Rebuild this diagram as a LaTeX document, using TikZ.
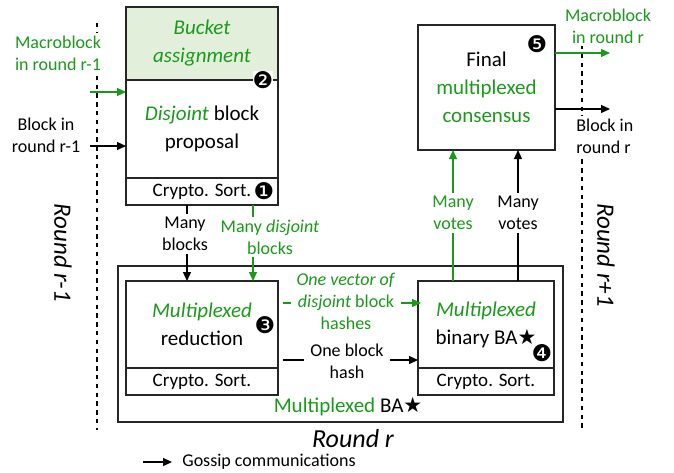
\documentclass[tikz,border=0pt]{standalone}
\usepackage{fontspec}
\setmainfont{Carlito}
\newfontfamily\symfont{DejaVu Sans}
\usetikzlibrary{arrows.meta,positioning,calc}
\definecolor{grn}{HTML}{1A9A1A}
\definecolor{bucketfill}{HTML}{E2EFDA}
\newcommand{\stepmark}[1]{{\symfont #1}}

\begin{document}
\begin{tikzpicture}[
  x=0.5pt, y=-0.5pt,
  box/.style={draw=black!85, line width=0.8pt, outer sep=0pt, align=center, inner sep=1pt, font=\fontsize{10.5}{14}\selectfont},
  sortbox/.style={box, minimum height=13.5pt, font=\fontsize{9.5}{10}\selectfont},
  lbl/.style={align=center, inner sep=1.5pt, font=\fontsize{9}{11}\selectfont},
  stepno/.style={inner sep=0pt, font=\fontsize{11.5}{11.5}\selectfont},
  arr/.style={-{Triangle[length=4.5pt,width=4pt]}, line width=0.6pt},
  border/.style={dashed, dash pattern=on 2.2pt off 2.2pt, line width=0.7pt},
]
\useasboundingbox (0,0) rectangle (674,472);

% round borders
\coordinate (lefttop) at (97,23);
\coordinate (leftbot) at (97,430);
\coordinate (righttop) at (582,45);
\coordinate (rightbot) at (582,430);
\draw[border] (lefttop) -- (leftbot);
\draw[border] (righttop) -- (rightbot);

\node[rotate=-90, font=\fontsize{12.5}{13}\selectfont\itshape] (rprev) at (63,253) {Round r-1};
\node[rotate=-90, font=\fontsize{12.5}{13}\selectfont\itshape] (rnext) at (606,255) {Round r+1};

% proposal column
\node[box, minimum width=76pt, minimum height=36.5pt, fill=bucketfill, anchor=north west] (bucket) at (126,7) {\textcolor{grn}{\itshape Bucket}\\\textcolor{grn}{\itshape assignment}};
\node[box, minimum width=76pt, minimum height=49pt, below=0pt of bucket] (prop) {\textcolor{grn}{\itshape Disjoint} block\\proposal};
\node[sortbox, minimum width=76pt, below=0pt of prop] (sortA) {Crypto. Sort.};
\node[stepno, fill=white] (n1) at ($(sortA.east)+(-14,0)$) {\stepmark{❶}};
\node[stepno, fill=white] (n2) at ($(bucket.south east)+(-15,0)$) {\stepmark{❷}};

% final consensus
\node[box, minimum width=68.5pt, minimum height=62.5pt, anchor=north west] (final) at (418,25) {Final\\\textcolor{grn}{multiplexed}\\\textcolor{grn}{consensus}};
\node[stepno] (n5) at (537,44) {\stepmark{❺}};

% multiplexed BA
\node[box, minimum width=222.5pt, minimum height=78pt, anchor=north west] (bagroup) at (118,266) {};
\node[box, minimum width=76pt, minimum height=43.5pt, anchor=north west] (reduce) at (126,281) {\textcolor{grn}{\itshape Multiplexed}\\reduction};
\node[sortbox, minimum width=76pt, below=0pt of reduce] (sortB) {Crypto. Sort.};
\node[box, minimum width=68pt, minimum height=43.5pt, anchor=north west] (binba) at (418,281) {\textcolor{grn}{\itshape Multiplexed}\\binary BA\stepmark{★}};
\node[sortbox, minimum width=68pt, below=0pt of binba] (sortC) {Crypto. Sort.};
\node[stepno] (n3) at (265,325) {\stepmark{❸}};
\node[stepno] (n4) at (542,353) {\stepmark{❹}};
\node[lbl, font=\fontsize{10.5}{12}\selectfont] (bacap) at (348,407) {\textcolor{grn}{Multiplexed} BA\stepmark{★}};
\node[font=\fontsize{13}{14}\selectfont\itshape] (rcur) at (353,439) {Round r};

% inputs from round r-1
\coordinate (macsrc) at (90,92);
\coordinate (blksrc) at (90,146);
\draw[arr, grn] (macsrc) -- (macsrc -| prop.west);
\draw[arr] (blksrc) -- (blksrc -| prop.west);
\node[lbl, text=grn, fill=white] (macin) at (58,53) {Macroblock\\in round r-1};
\node[lbl] (blkin) at (46,135) {Block in\\round r-1};

% outputs to round r+1
\coordinate (macdst) at (610,53);
\coordinate (blkdst) at (610,109);
\draw[arr, grn] (macdst -| final.east) -- (macdst);
\draw[arr] (blkdst -| final.east) -- (blkdst);
\node[lbl, text=grn, fill=white] (macout) at (608,26) {Macroblock\\in round r};
\node[lbl, align=left, fill=white, anchor=west] (blkout) at (573,136) {Block in\\round r};

% proposal to reduction
\draw[arr] ($(sortA.south west)+(61,0)$) -- ($(reduce.north west)+(61,0)$);
\draw[arr, grn] ($(sortA.south west)+(127,0)$) -- ($(reduce.north west)+(127,0)$);
\node[lbl, fill=white] (manyblk) at (185,234) {Many\\blocks};
\node[lbl, text=grn, fill=white] (manydis) at (270,237) {Many \textit{disjoint}\\blocks};

% reduction to binary BA
\draw[arr, grn, shorten <=2.5pt] ($(reduce.north east)+(0,22)$) -- ($(binba.north west)+(3,22)$);
\draw[arr, shorten <=2.5pt] ($(reduce.north east)+(0,79)$) -- ($(binba.north west)+(0,79)$);
\node[lbl, text=grn, fill=white, inner xsep=3pt] (vechash) at (346,301) {\textit{One vector of}\\\textit{disjoint} block\\hashes};
\node[lbl, fill=white, inner xsep=3pt] (onehash) at (347,361) {One block\\hash};

% votes to final
\draw[arr, grn] ($(binba.north west)+(35,0)$) -- ($(final.south west)+(35,0)$);
\draw[arr] ($(binba.north west)+(100,0)$) -- ($(final.south west)+(100,0)$);
\node[lbl, text=grn, fill=white] (votesg) at (453,213) {Many\\votes};
\node[lbl, fill=white] (votesb) at (518,213) {Many\\votes};

% legend
\coordinate (legsrc) at (143,462);
\node[lbl, anchor=west, inner xsep=5pt] (legtxt) at (172,462) {Gossip communications};
\draw[arr] (legsrc) -- (legtxt.west);
\end{tikzpicture}
\end{document}
